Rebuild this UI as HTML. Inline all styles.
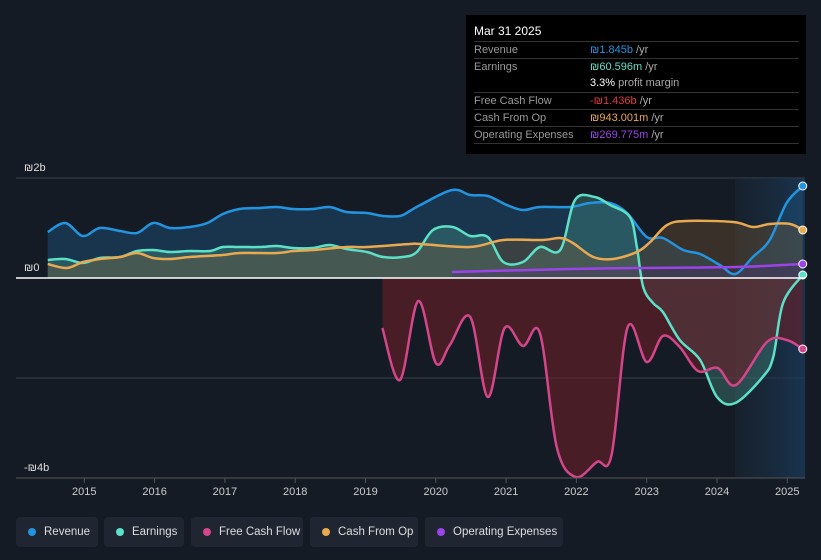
<!DOCTYPE html>
<html><head><meta charset="utf-8"><style>
html,body{margin:0;background:#151b25;width:821px;height:560px;overflow:hidden;font-family:"Liberation Sans",sans-serif;}
#tip{position:absolute;left:466px;top:15px;width:340px;height:139px;background:#000;color:#ddd;font-size:11px;}
#tip .t{position:absolute;left:8px;top:9px;font-size:12px;color:#fff;}
.row{position:absolute;left:8px;width:325px;height:17px;border-top:1px solid #333;white-space:nowrap;}
.row span.l{position:absolute;left:0;top:2px;color:#999;}
.row span.v{position:absolute;left:116px;top:2px;color:#aaa;}
.leg{position:absolute;top:517px;height:30px;background:#1f2632;border-radius:4px;color:#ddd;font-size:11.5px;line-height:30px;box-sizing:border-box;padding-left:28px;white-space:nowrap;overflow:hidden;}
.leg i{position:absolute;left:12px;top:11px;width:8px;height:8px;border-radius:50%;}
</style></head><body>
<svg id="chart" width="821" height="560" style="position:absolute;left:0;top:0">
<defs>
<linearGradient id="hl" x1="0" x2="1" y1="0" y2="0"><stop offset="0" stop-color="#1a2a3a" stop-opacity="0.4"/><stop offset="1" stop-color="#1a3a5a" stop-opacity="0.8"/></linearGradient>
</defs>
<g id="grid"></g>
<rect x="735" y="178" width="70" height="300" fill="url(#hl)"/>
<g id="areas"></g><g id="lines"></g><g id="axis"></g>
</svg>
<div id="tip">
<div class="t">Mar 31 2025</div>
<div class="row" style="top:26px"><span class="l">Revenue</span><span class="v"><b style="color:#2394df;font-weight:normal">₪1.845b</b> /yr</span></div>
<div class="row" style="top:43px"><span class="l">Earnings</span><span class="v"><b style="color:#5de0c8;font-weight:normal">₪60.596m</b> /yr</span></div>
<div class="row" style="top:60px;border-top:none"><span class="v"><b style="color:#fff;font-weight:normal">3.3%</b> profit margin</span></div>
<div class="row" style="top:77px"><span class="l">Free Cash Flow</span><span class="v"><b style="color:#e0393e;font-weight:normal">-₪1.436b</b> /yr</span></div>
<div class="row" style="top:94px"><span class="l">Cash From Op</span><span class="v"><b style="color:#e8a950;font-weight:normal">₪943.001m</b> /yr</span></div>
<div class="row" style="top:111px"><span class="l">Operating Expenses</span><span class="v"><b style="color:#9b44e8;font-weight:normal">₪269.775m</b> /yr</span></div>
<div class="row" style="top:128px;height:0"></div>
</div>
<div class="leg" style="left:16px;width:82px"><i style="background:#2394df"></i>Revenue</div>
<div class="leg" style="left:104px;width:80px"><i style="background:#5de0c8"></i>Earnings</div>
<div class="leg" style="left:191px;width:112px"><i style="background:#d4468a"></i>Free Cash Flow</div>
<div class="leg" style="left:310px;width:108px"><i style="background:#e8a950"></i>Cash From Op</div>
<div class="leg" style="left:425px;width:138px"><i style="background:#9b44e8"></i>Operating Expenses</div>
<script>
const yTicks=[2,0,-4];
const yTickLabels=["₪2b","₪0","-₪4b"];
const xYears=[2015,2016,2017,2018,2019,2020,2021,2022,2023,2024,2025];
const revDates=[2014.48,2014.73,2014.98,2015.22,2015.51,2015.75,2015.98,2016.22,2016.5,2016.75,2016.97,2017.21,2017.5,2017.74,2017.97,2018.25,2018.49,2018.73,2019.02,2019.25,2019.49,2019.63,2019.78,2020.23,2020.49,2020.74,2021.01,2021.24,2021.48,2021.91,2022.19,2022.48,2022.72,2023.0,2023.23,2023.52,2023.76,2024.04,2024.26,2024.51,2024.75,2024.99,2025.22];
const revVals=[.92,1.10,.84,1.0,.94,.90,1.10,1.0,1.02,1.10,1.28,1.38,1.40,1.42,1.38,1.38,1.42,1.32,1.30,1.24,1.24,1.34,1.46,1.76,1.66,1.64,1.46,1.36,1.42,1.42,1.50,1.50,1.30,.82,.80,.56,.48,.26,.08,.42,.76,1.50,1.84];
const earnDates=[2014.48,2014.73,2014.98,2015.22,2015.51,2015.75,2015.98,2016.22,2016.5,2016.79,2016.97,2017.21,2017.5,2017.74,2017.97,2018.25,2018.49,2018.73,2019.02,2019.25,2019.53,2019.73,2019.96,2020.24,2020.49,2020.74,2020.96,2021.24,2021.48,2021.77,2021.98,2022.26,2022.48,2022.76,2022.86,2022.95,2023.09,2023.23,2023.47,2023.76,2024.0,2024.26,2024.65,2024.8,2024.94,2025.22];
const earnVals=[.36,.38,.30,.40,.42,.54,.56,.52,.54,.54,.62,.62,.62,.64,.60,.60,.66,.58,.52,.42,.42,.52,.96,1.02,.84,.82,.32,.32,.62,.56,1.56,1.62,1.46,1.22,.62,-.18,-.50,-.68,-1.24,-1.64,-2.38,-2.50,-1.98,-1.58,-.50,.06];
const fcfDates=[2019.24,2019.49,2019.75,2020.0,2020.2,2020.49,2020.74,2020.98,2021.24,2021.48,2021.72,2021.99,2022.29,2022.5,2022.73,2023.0,2023.23,2023.47,2023.73,2024.01,2024.27,2024.71,2024.99,2025.22];
const fcfVals=[-1.00,-2.04,-.46,-1.70,-1.34,-.78,-2.38,-1.00,-1.36,-1.10,-3.38,-3.98,-3.68,-3.54,-.98,-1.68,-1.16,-1.38,-1.86,-1.80,-2.14,-1.28,-1.24,-1.42];
const cfoDates=[2014.48,2014.75,2014.98,2015.22,2015.51,2015.75,2015.98,2016.22,2016.5,2016.97,2017.21,2017.74,2017.97,2018.25,2018.73,2019.02,2019.63,2019.78,2020.49,2020.96,2021.52,2021.77,2021.95,2022.24,2022.52,2022.86,2023.05,2023.29,2023.57,2024.23,2024.51,2024.75,2025.04,2025.22];
const cfoVals=[.28,.20,.32,.38,.42,.50,.40,.38,.42,.46,.50,.50,.54,.56,.62,.62,.68,.68,.62,.76,.76,.80,.70,.42,.38,.52,.72,1.06,1.14,1.12,1.02,1.08,1.08,.96];
const opexDates=[2020.23,2021.91,2022.86,2024.28,2025.22];
const opexVals=[.12,.18,.20,.22,.28];

const X=t=>84.3+(t-2015)*70.3;
const Y=v=>278-v*50;
const NS='http://www.w3.org/2000/svg';
function mk(tag,attrs,parent){const e=document.createElementNS(NS,tag);for(const k in attrs)e.setAttribute(k,attrs[k]);document.getElementById(parent).appendChild(e);return e;}
function curve(d,v){const p=d.map((t,i)=>[X(t),Y(v[i])]);let s='M'+p[0][0]+','+p[0][1];
 for(let i=0;i<p.length-1;i++){const p0=p[i-1]||p[i],p1=p[i],p2=p[i+1],p3=p[i+2]||p2;
  s+=' C'+(p1[0]+(p2[0]-p0[0])/6)+','+(p1[1]+(p2[1]-p0[1])/6)+' '+(p2[0]-(p3[0]-p1[0])/6)+','+(p2[1]-(p3[1]-p1[1])/6)+' '+p2[0]+','+p2[1];}
 return s;}
function area(d,v){return curve(d,v)+' L'+X(d[d.length-1])+','+Y(0)+' L'+X(d[0])+','+Y(0)+' Z';}
[2,-2,-4].forEach(v=>{const l=mk('line',{x1:16,x2:805,y1:Y(v),y2:Y(v),stroke:'#3a404a','stroke-width':1},'grid');

});
yTicks.forEach((v,i)=>{const t=mk('text',{x:24,y:Y(v)-7,fill:'#ddd','font-size':11,'font-family':'Liberation Sans'},'axis');t.textContent=yTickLabels[i];

});
xYears.forEach(y=>{const t=mk('text',{x:X(y),y:495,fill:'#ccc','font-size':11,'text-anchor':'middle','font-family':'Liberation Sans'},'axis');t.textContent=y;


const k=mk('line',{x1:X(y),x2:X(y),y1:478,y2:483,stroke:'#555'},'axis');

});
const series=[
 ['revenue',revDates,revVals,'#2394df','#1b4a70',0.55],
 ['earnings',earnDates,earnVals,'#5de0c8','#4a9c8c',0.35],
 ['cash-from-op',cfoDates,cfoVals,'#e8a950','#7a5a30',0.35],
 ['free-cash-flow',fcfDates,fcfVals,'#d4468a','#6a2028',0.6],
 ['operating-expenses',opexDates,opexVals,'#9b44e8','#4a2a70',0.3]];
series.forEach(s=>{const a=mk('path',{d:area(s[1],s[2]),fill:s[4],'fill-opacity':s[5]},'areas');


const l=mk('path',{d:curve(s[1],s[2]),fill:'none',stroke:s[3],'stroke-width':2.5},'lines');


const n=s[1].length-1;const c=mk('circle',{cx:X(s[1][n]),cy:Y(s[2][n]),r:4,fill:s[3],stroke:'#fff','stroke-width':1},'lines');

});
const z=mk('line',{x1:16,x2:805,y1:Y(0),y2:Y(0),stroke:'#fff','stroke-width':1.5},'axis');


const b=mk('line',{x1:16,x2:805,y1:478,y2:478,stroke:'#555','stroke-width':1},'axis');


</script>
</body></html>
